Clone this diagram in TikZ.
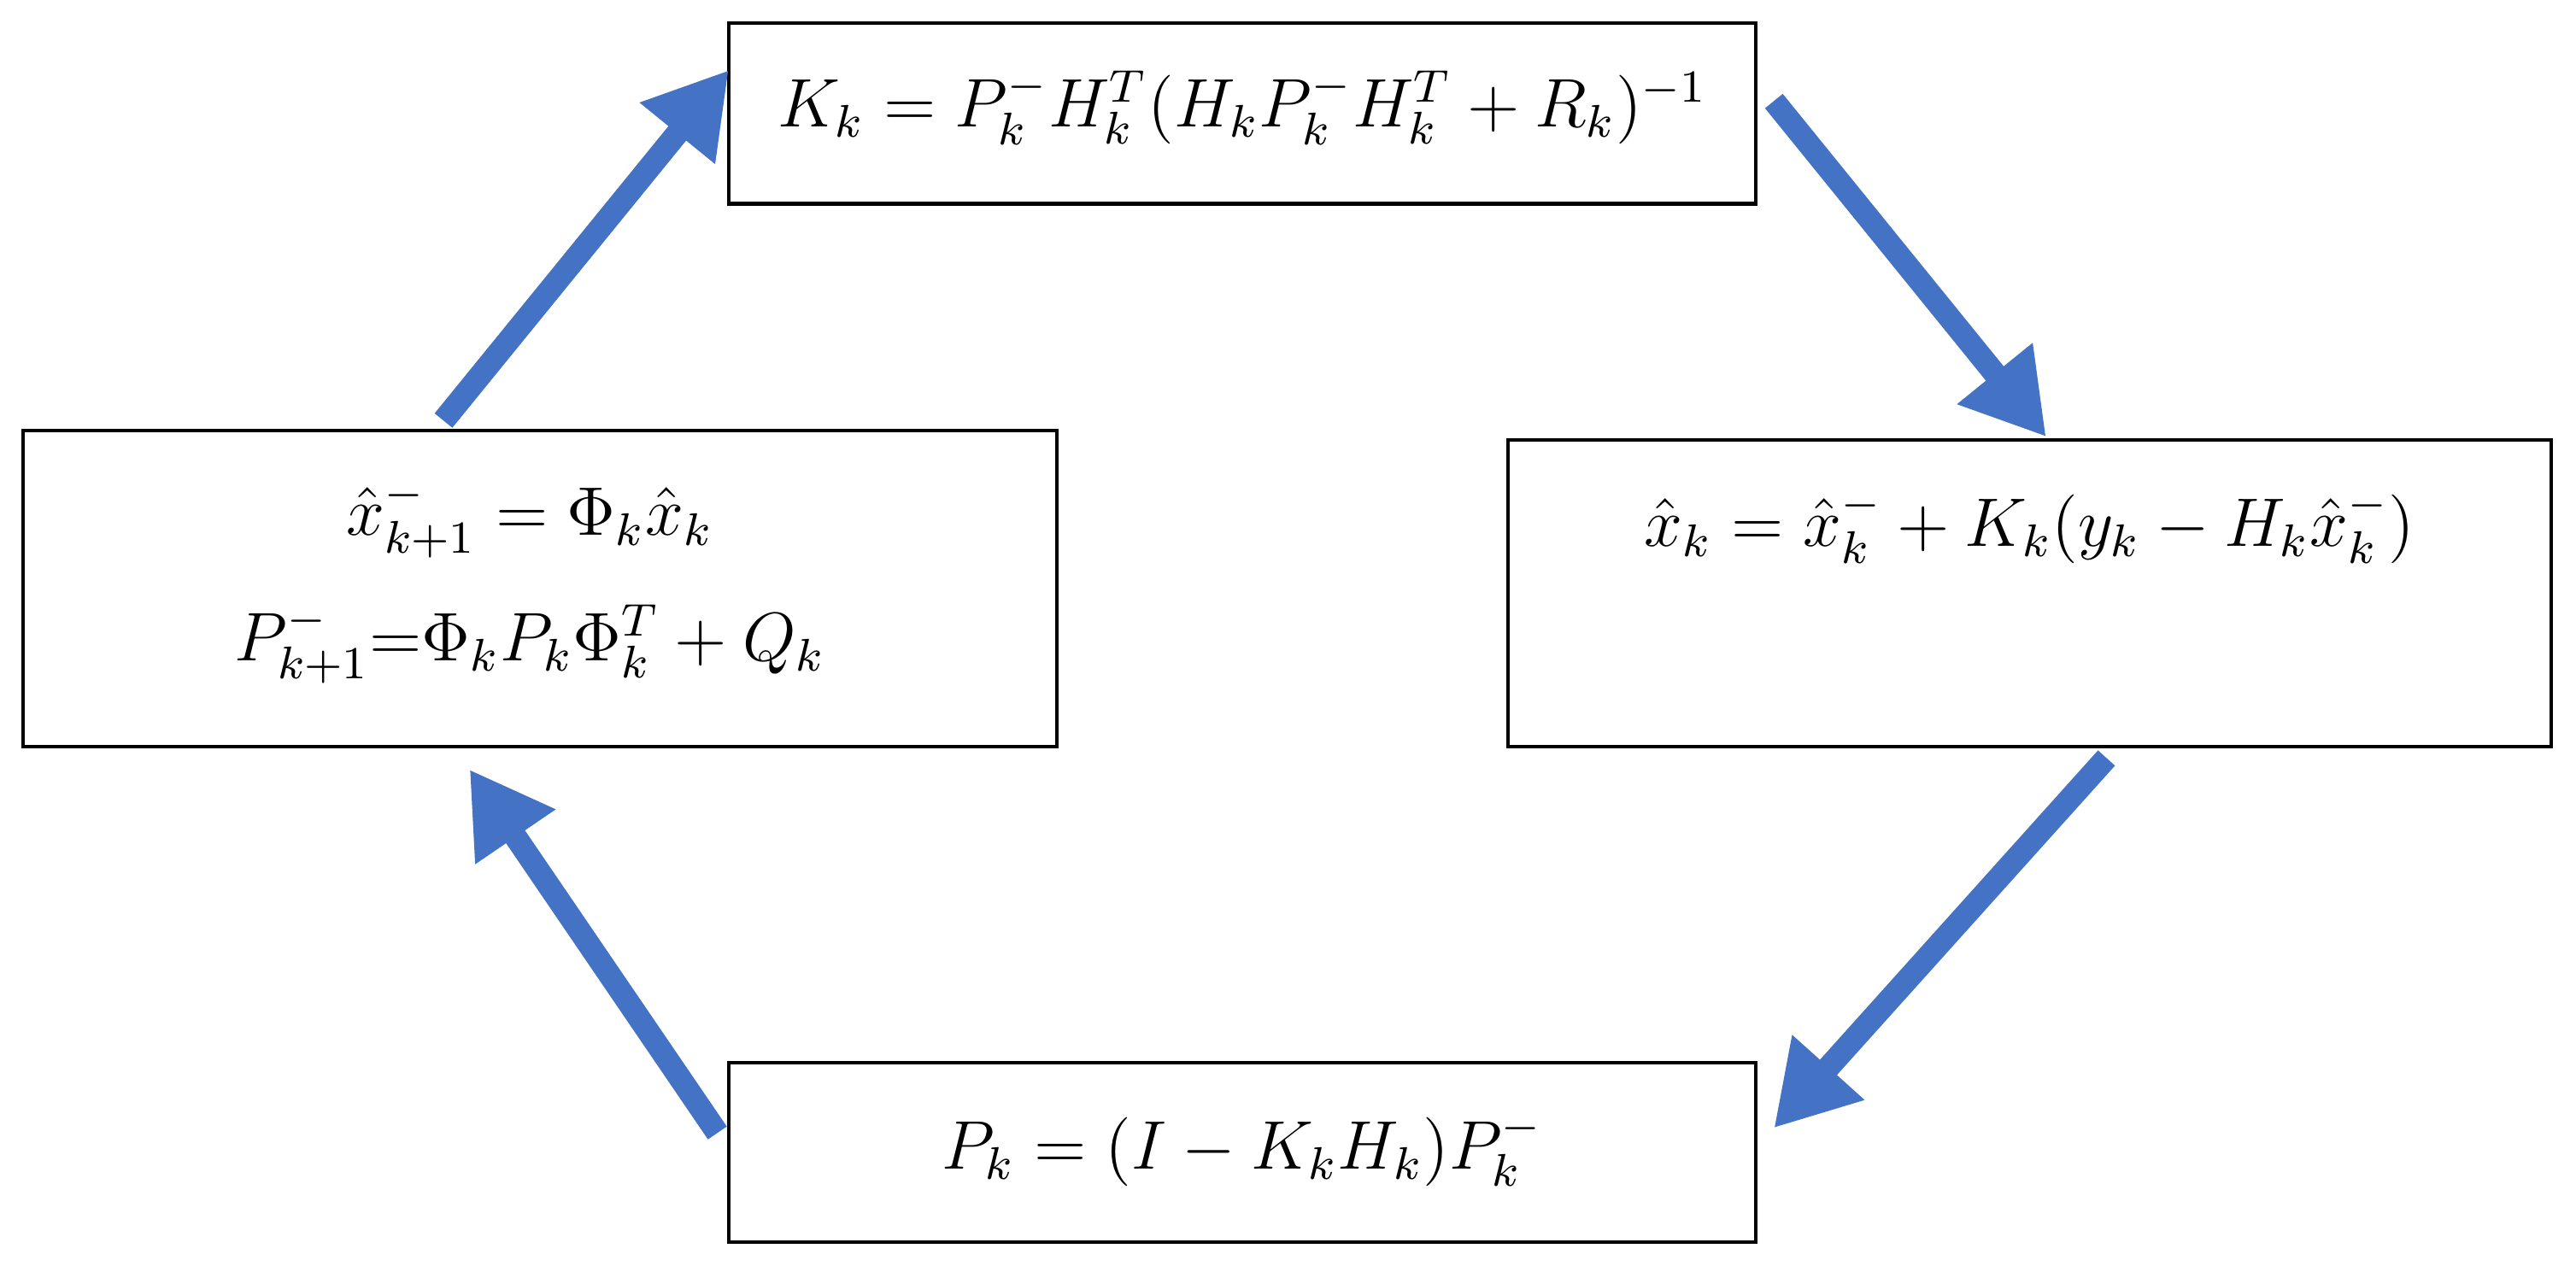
\documentclass[tikz,border=0pt]{standalone}
\usetikzlibrary{arrows.meta}
\definecolor{arr}{HTML}{4472C4}
\begin{document}
\begin{tikzpicture}[x=0.01cm,y=-0.01cm,
  box/.style={draw=black,line width=0.6pt},
  lbl/.style={font=\large},
  flow/.style={draw=arr,line width=0.14cm,-{Triangle[length=5mm,width=5.6mm]}}]
\useasboundingbox (0,0) rectangle (1580,780);
\draw[box] (447,14) rectangle (1077,125);
\draw[box] (925,270) rectangle (1565,458);
\draw[box] (14,264) rectangle (648,458);
\draw[box] (447,652) rectangle (1077,762);
\node[lbl] (t) at (762,66) {$K_k=P_k^-H_k^T(H_kP_k^-H_k^T+R_k)^{-1}$};
\node[lbl] (r) at (1245,323) {$\hat{x}_k=\hat{x}_k^-+K_k(y_k-H_k\hat{x}_k^-)$};
\node[lbl] (l1) at (325,318) {$\hat{x}_{k+1}^-=\Phi_k\hat{x}_k$};
\node[lbl] (l2) at (325,395) {$P_{k+1}^-$=$\Phi_kP_k\Phi_k^T+Q_k$};
\node[lbl] (b) at (762,705) {$P_k=(I-K_kH_k)P_k^-$};
\coordinate (a1s) at (272,258); \coordinate (a1e) at (447,43);
\coordinate (a2s) at (1088,62); \coordinate (a2e) at (1255,268);
\coordinate (a3s) at (1292,465); \coordinate (a3e) at (1088,692);
\coordinate (a4s) at (440,695); \coordinate (a4e) at (288,472);
\draw[flow] (a1s) -- (a1e);
\draw[flow] (a2s) -- (a2e);
\draw[flow] (a3s) -- (a3e);
\draw[flow] (a4s) -- (a4e);
\end{tikzpicture}
\end{document}
